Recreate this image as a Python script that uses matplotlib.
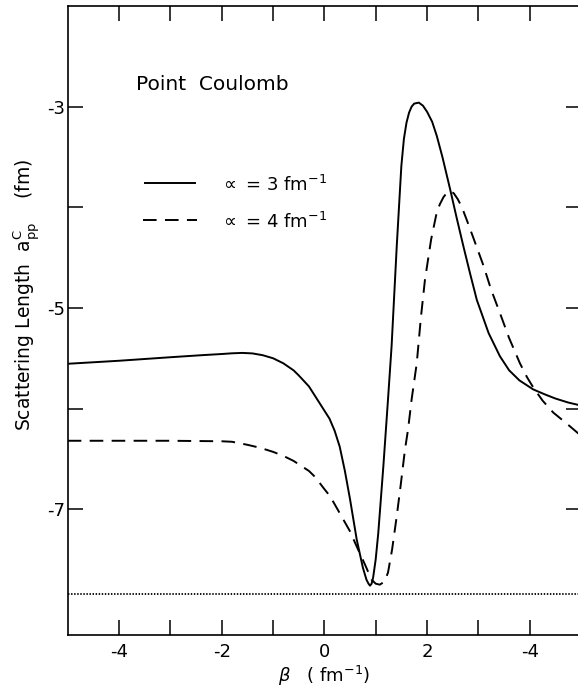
import matplotlib
matplotlib.use("Agg")
import matplotlib.pyplot as plt

# --- data ---
beta_solid = [-5.0, -4.0, -3.0, -2.4, -2.0, -1.8, -1.6, -1.4, -1.2, -1.0, -0.8, -0.6, -0.5,
              -0.3, -0.2, -0.1, 0.0, 0.1, 0.2, 0.3, 0.4, 0.5, 0.63, 0.75, 0.82, 0.86, 0.89,
              0.92, 0.95, 1.0, 1.05, 1.15, 1.24, 1.31, 1.41, 1.50, 1.55, 1.60, 1.65, 1.70,
              1.75, 1.84, 1.92, 2.0, 2.1, 2.19, 2.3, 2.45, 2.58, 2.71, 2.84, 2.97, 3.2, 3.42,
              3.6, 3.8, 4.07, 4.3, 4.5, 4.75, 5.0]
a_solid = [-5.555, -5.525, -5.49, -5.47, -5.458, -5.451, -5.447, -5.452, -5.47, -5.50, -5.55,
           -5.62, -5.67, -5.78, -5.86, -5.94, -6.02, -6.10, -6.22, -6.38, -6.62, -6.90, -7.30,
           -7.58, -7.70, -7.74, -7.76, -7.74, -7.68, -7.50, -7.24, -6.57, -5.91, -5.38, -4.39,
           -3.59, -3.32, -3.16, -3.06, -3.00, -2.97, -2.96, -2.99, -3.05, -3.15, -3.29, -3.50,
           -3.82, -4.11, -4.39, -4.66, -4.92, -5.25, -5.48, -5.62, -5.72, -5.81, -5.86, -5.90,
           -5.94, -5.97]

beta_dashed = [-5.0, -3.0, -2.0, -1.8, -1.5, -1.25, -1.0, -0.8, -0.6, -0.45, -0.3, -0.2,
               -0.09, 0.0, 0.11, 0.2, 0.30, 0.4, 0.5, 0.63, 0.8, 0.92, 1.0, 1.08, 1.17, 1.24,
               1.32, 1.41, 1.49, 1.57, 1.63, 1.70, 1.80, 1.88, 1.96, 2.08, 2.19, 2.25, 2.32,
               2.38, 2.45, 2.52, 2.6, 2.68, 2.77, 2.9, 3.10, 3.25, 3.42, 3.6, 3.81, 3.95,
               4.07, 4.25, 4.46, 4.7, 5.0]
a_dashed = [-6.32, -6.32, -6.325, -6.33, -6.36, -6.39, -6.43, -6.47, -6.52, -6.57, -6.62,
            -6.67, -6.74, -6.80, -6.87, -6.95, -7.04, -7.13, -7.22, -7.37, -7.56, -7.70,
            -7.74, -7.75, -7.72, -7.63, -7.40, -7.07, -6.75, -6.41, -6.21, -5.91, -5.55,
            -5.10, -4.72, -4.32, -4.05, -3.97, -3.90, -3.86, -3.84, -3.86, -3.92, -4.00,
            -4.12, -4.30, -4.58, -4.82, -5.05, -5.30, -5.55, -5.69, -5.79, -5.92, -6.04,
            -6.14, -6.27]

dotted_level = -7.84

x_ticks = [-4, -3, -2, -1, 0, 1, 2, 3, 4]
x_ticklabels = ["-4", "", "-2", "", "0", "", "2", "", "-4"]
y_ticks = [-3, -4, -5, -6, -7]
y_ticklabels = ["-3", "", "-5", "", "-7"]

legend_labels = [r"$\propto$ = 3 fm$^{-1}$", r"$\propto$ = 4 fm$^{-1}$"]

# --- figure ---
W, H = 578, 687
fig = plt.figure(figsize=(W / 100, H / 100), dpi=100)
left, right, top, bottom = 67.7, 581, 6, 635
ax = fig.add_axes([left / W, 1 - bottom / H, (right - left) / W, (bottom - top) / H])

ax.plot(beta_solid, a_solid, color="black", lw=1.4, solid_joinstyle="round")
ax.plot(beta_dashed, a_dashed, color="black", lw=1.4, dashes=(7, 4.3))
ax.axhline(dotted_level, color="black", lw=1.3, linestyle=(0, (0.8, 0.9)))

ax.set_xlim(-5, 5)
ax.set_ylim(-8.25, -2.0)

ax.set_xticks(x_ticks)
ax.set_xticklabels(x_ticklabels)
ax.set_yticks(y_ticks)
ax.set_yticklabels(y_ticklabels)
ax.tick_params(direction="in", length=11, width=1.1, labelsize=13,
               top=True, right=True, pad=6)
ax.tick_params(axis="y", pad=2)
for s in ax.spines.values():
    s.set_linewidth(1.2)

ax.set_xlabel(r"$\beta$   ( fm$^{-1}$)", fontsize=13, labelpad=2)
ax.set_ylabel(r"Scattering Length  $\mathregular{a^{C}_{pp}}$    (fm)", fontsize=13.5)

def fx(px):
    return (px - left) / (right - left)
def fy(py):
    return 1 - (py - top) / (bottom - top)

ax.yaxis.set_label_coords(fx(42), fy(295))

ax.text(fx(136), fy(85), "Point  Coulomb", transform=ax.transAxes, fontsize=14.5,
        va="center", ha="left")

# legend drawn manually
ax.plot([fx(145), fx(195)], [fy(183), fy(183)], transform=ax.transAxes, color="black", lw=1.4)
ax.plot([fx(143), fx(197)], [fy(220), fy(220)], transform=ax.transAxes, color="black", lw=1.4,
        dashes=(7, 4.3))
ax.text(fx(220), fy(185), legend_labels[0], transform=ax.transAxes, fontsize=13,
        va="center", ha="left")
ax.text(fx(220), fy(222), legend_labels[1], transform=ax.transAxes, fontsize=13,
        va="center", ha="left")

fig.savefig("out.png", dpi=100)
